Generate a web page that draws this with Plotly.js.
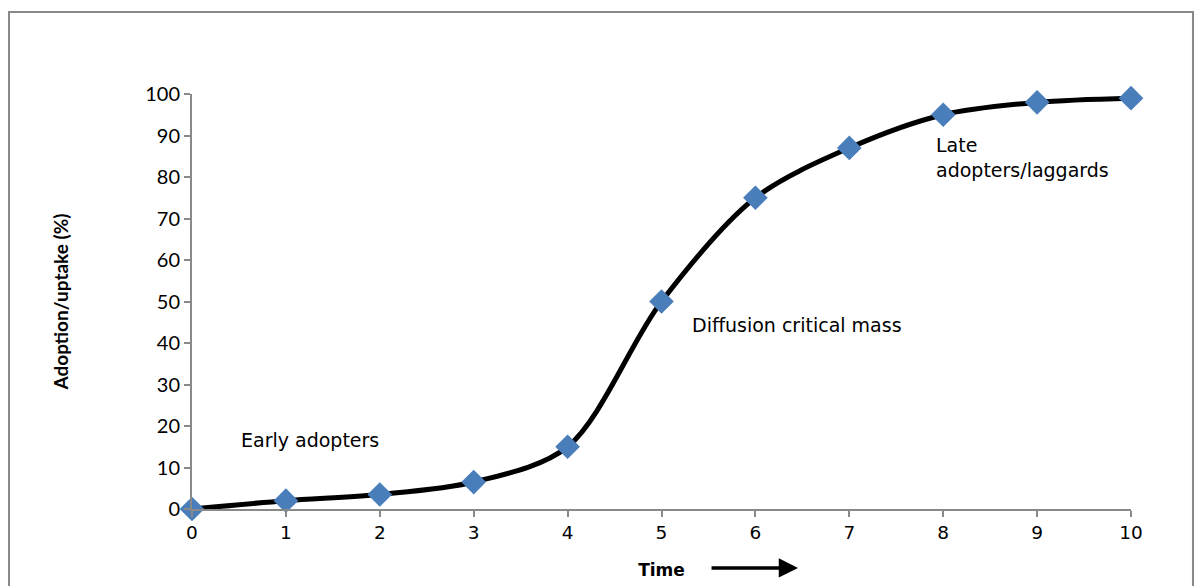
<!DOCTYPE html>
<html>
<head>
<meta charset="utf-8">
<script src="https://cdn.plot.ly/plotly-3.0.1.min.js"></script>
<style>html,body{margin:0;padding:0;background:#fff;}#chart{width:1198px;height:586px;}</style>
</head>
<body>
<div id="chart"></div>
<script>
const timeSteps = [0, 1, 2, 3, 4, 5, 6, 7, 8, 9, 10];
const adoption = [0, 2, 3.5, 6.5, 15, 50, 75, 87, 95, 98, 99];
const yTicks = [0, 10, 20, 30, 40, 50, 60, 70, 80, 90, 100];
const labelTexts = ["Early adopters", "Diffusion critical mass", "Late<br>adopters/laggards"];
const labelX = [0.5, 5.3, 7.9];
const labelY = [16.6, 44.3, 84.6];

const annFont = {family: "DejaVu Sans, Verdana, sans-serif", size: 19, color: "#000"};

const traces = [{
  x: timeSteps,
  y: adoption,
  type: "scatter",
  mode: "lines+markers",
  line: {color: "#000000", width: 5, shape: "spline", smoothing: 0.9},
  marker: {symbol: "diamond", size: 19, color: "#4a7ebb", line: {width: 0}},
  cliponaxis: false,
  hoverinfo: "x+y"
}];

const annotations = labelTexts.map((t, i) => ({
  x: labelX[i], y: labelY[i], xref: "x", yref: "y",
  text: t, showarrow: false, xanchor: "left", yanchor: "middle", align: "left",
  font: annFont
}));
annotations.push({
  x: 0.6454, y: -0.142, xref: "paper", yref: "paper",
  ax: -88, ay: 0, text: "", showarrow: true,
  arrowhead: 2, arrowsize: 1.1, arrowwidth: 3.5, arrowcolor: "#000"
});

const layout = {
  width: 1198, height: 586,
  margin: {l: 192, r: 67, t: 94, b: 77},
  paper_bgcolor: "#fff", plot_bgcolor: "#fff",
  showlegend: false,
  xaxis: {
    range: [0, 10], tickmode: "array", tickvals: timeSteps, ticktext: timeSteps.map(String),
    showgrid: false, zeroline: false, showline: true, linecolor: "#898989", linewidth: 2,
    ticks: "outside", ticklen: 6, tickwidth: 2, tickcolor: "#898989",
    tickfont: {family: "DejaVu Sans, Verdana, sans-serif", size: 18.5, color: "#000"},
    title: {text: "<b>Time</b>", font: {family: "DejaVu Sans, Verdana, sans-serif", size: 17, color: "#000"}, standoff: 22}
  },
  yaxis: {
    range: [0, 100], tickmode: "array", tickvals: yTicks,
    showgrid: false, zeroline: false, showline: true, linecolor: "#898989", linewidth: 2,
    ticks: "outside", ticklen: 6, tickwidth: 2, tickcolor: "#898989",
    tickfont: {family: "Lato, Open Sans, sans-serif", size: 20, color: "#000"},
    title: {text: "<b>Adoption/uptake (%)</b>", font: {family: "Lato, Open Sans, sans-serif", size: 19, color: "#000"}, standoff: 72}
  },
  annotations: annotations,
  shapes: [{
    type: "rect", xref: "paper", yref: "paper",
    x0: -0.1949, x1: 1.066, y0: -0.4, y1: 1.1976,
    line: {color: "#898989", width: 2}, fillcolor: "rgba(0,0,0,0)", layer: "below"
  }]
};

Plotly.newPlot("chart", traces, layout, {displayModeBar: false, staticPlot: true});
</script>
</body>
</html>
